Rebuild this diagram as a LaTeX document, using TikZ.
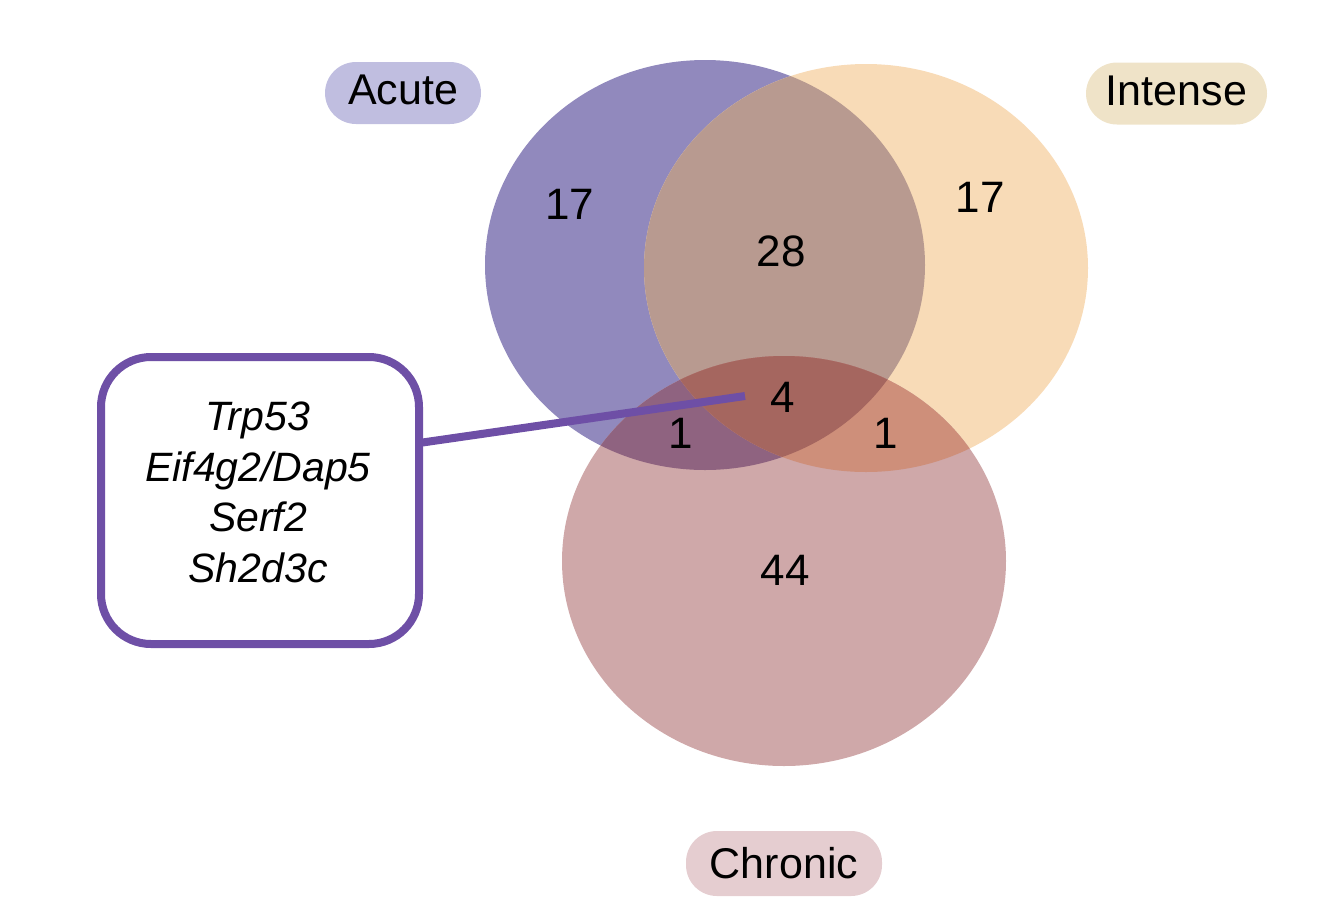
\documentclass[tikz,border=0pt]{standalone}
\usepackage{fontspec}
\setmainfont{Liberation Sans}
\definecolor{aOnly}{HTML}{9189BD}
\definecolor{iOnly}{HTML}{F8DBB7}
\definecolor{cOnly}{HTML}{CFA8A9}
\definecolor{aiCol}{HTML}{B89A90}
\definecolor{acCol}{HTML}{8F6380}
\definecolor{icCol}{HTML}{CE8F7A}
\definecolor{aicCol}{HTML}{A5665F}
\definecolor{pillA}{HTML}{C0BEE0}
\definecolor{pillI}{HTML}{EFE3C8}
\definecolor{pillC}{HTML}{E5CDD0}
\definecolor{calloutCol}{HTML}{6E4FA6}
\tikzset{
  num/.style={font=\fontsize{44}{50}\selectfont, inner sep=0pt},
  pill/.style={font=\fontsize{43}{50}\selectfont, rounded corners=31pt, minimum height=62pt, inner sep=0pt},
  raised/.style={text height=31pt, text depth=8pt},
  calloutbox/.style={draw=calloutCol, line width=8pt, fill=white, rounded corners=50pt, minimum width=318pt, minimum height=287pt},
  genetext/.style={align=center, inner sep=0pt, font=\fontsize{41}{50.5}\selectfont\itshape},
  callout/.style={draw=calloutCol, line width=8pt},
}
\newcommand{\ellA}{(705,265) ellipse [x radius=220, y radius=205]}
\newcommand{\ellI}{(866,268) ellipse [x radius=222, y radius=204]}
\newcommand{\ellC}{(784,561) ellipse [x radius=222, y radius=205]}
\begin{document}
\begin{tikzpicture}[x=1pt,y=-1pt]
\useasboundingbox (0,0) rectangle (1326,898);
% base ellipses
\fill[aOnly] \ellA;
\fill[iOnly] \ellI;
\fill[cOnly] \ellC;
% pairwise overlaps
\begin{scope}\clip \ellA; \fill[aiCol] \ellI; \end{scope}
\begin{scope}\clip \ellA; \fill[acCol] \ellC; \end{scope}
\begin{scope}\clip \ellI; \fill[icCol] \ellC; \end{scope}
\begin{scope}\clip \ellA; \clip \ellI; \fill[aicCol] \ellC; \end{scope}
% numbers
\node[num] (nA)   at (570,204) {17};
\node[num] (nAI)  at (781,251) {28};
\node[num] (nI)   at (980,197) {17};
\node[num] (nAIC) at (783,397) {4};
\node[num] (nAC)  at (681,433) {1};
\node[num] (nIC)  at (886,433) {1};
\node[num] (nC)   at (785,570) {44};
% labels
\node[pill, raised, fill=pillA, minimum width=156pt] (lA) at (403,93) {Acute};
\node[pill, raised, fill=pillI, minimum width=181pt] (lI) at (1176.5,93.5) {Intense};
\node[pill, fill=pillC, minimum width=196pt, minimum height=65pt] (lC) at (784,863.5) {Chronic};
% callout
\node[calloutbox] (box) at (260,500.5) {};
\node[genetext] (genes) at (258,492.5) {Trp53\\Eif4g2/Dap5\\Serf2\\Sh2d3c};
\coordinate (tip) at (745,396);
\draw[callout] ([yshift=57.5pt,xshift=-4pt]box.east) -- (tip);
\end{tikzpicture}
\end{document}
